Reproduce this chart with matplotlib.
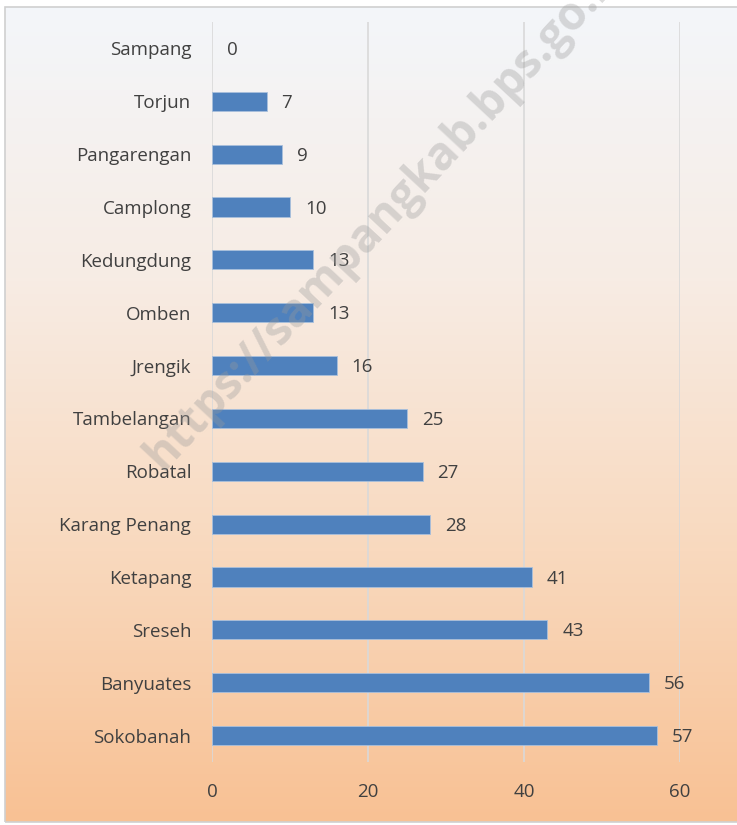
import numpy as np
import matplotlib
matplotlib.use("Agg")
import matplotlib.pyplot as plt
from matplotlib.colors import LinearSegmentedColormap
from matplotlib.patches import Rectangle

# data (top to bottom as shown)
kecamatan = ["Sampang", "Torjun", "Pangarengan", "Camplong", "Kedungdung",
             "Omben", "Jrengik", "Tambelangan", "Robatal", "Karang Penang",
             "Ketapang", "Sreseh", "Banyuates", "Sokobanah"]
jumlah = [0, 7, 9, 10, 13, 13, 16, 25, 27, 28, 41, 43, 56, 57]
x_ticks = [0, 20, 40, 60]

plt.rcParams['font.family'] = ['Open Sans', 'DejaVu Sans']
text_color = '#404040'
bar_color = '#4f81bd'
fs = 13.5

fig = plt.figure(figsize=(7.37, 8.25), dpi=100)

# background panel with vertical gradient
bg = fig.add_axes([5 / 737, 3 / 825, 1 - 5 / 737, 1 - 10 / 825])
grad = LinearSegmentedColormap.from_list(
    'bg', ['#f3f6fa', '#f7ece4', '#f9d9be', '#f8c194'])
bg.imshow(np.linspace(0, 1, 256).reshape(-1, 1), aspect='auto', cmap=grad,
          extent=[0, 1, 0, 1], origin='upper')
bg.set_xlim(0, 1)
bg.set_ylim(0, 1)
bg.axis('off')
bg.add_patch(Rectangle((0, 0), 1.2, 1, fill=False, edgecolor='#d0d0d0',
                       linewidth=1.2, transform=bg.transAxes, clip_on=False))

ax = fig.add_axes([212 / 737, 1 - 762 / 825, 468 / 737, 740 / 825])
ax.patch.set_alpha(0)
y = np.arange(len(kecamatan))
edge_w = [0.6 if v > 0 else 0 for v in jumlah]
ax.barh(y, jumlah, height=0.36, color=bar_color, edgecolor='#a9c0dc',
        linewidth=edge_w, zorder=3)
for yi, v in zip(y, jumlah):
    ax.text(v + 1.9, yi + 0.03, str(v), va='center', ha='left', fontsize=fs,
            color=text_color, zorder=4)

ax.set_ylim(len(kecamatan) - 0.5, -0.5)
ax.set_xlim(0, 60)
ax.set_yticks(y)
ax.set_yticklabels(kecamatan)
ax.set_xticks(x_ticks)
ax.tick_params(axis='both', length=0, labelsize=fs, colors=text_color)
ax.tick_params(axis='y', pad=15)
ax.tick_params(axis='x', pad=15)
ax.grid(axis='x', color='#d9d9d9', linewidth=1.2, zorder=0)
for s in ax.spines.values():
    s.set_visible(False)

# watermark (runs off the top edge, as in the original)
fig.text(0.525, 0.742, "https://sampangkab.bps.go.id", rotation=47,
         ha='center', va='center', fontsize=33, fontweight='bold',
         color='#9a9a9a', alpha=0.35, zorder=10)

fig.savefig("out.png", dpi=100)
